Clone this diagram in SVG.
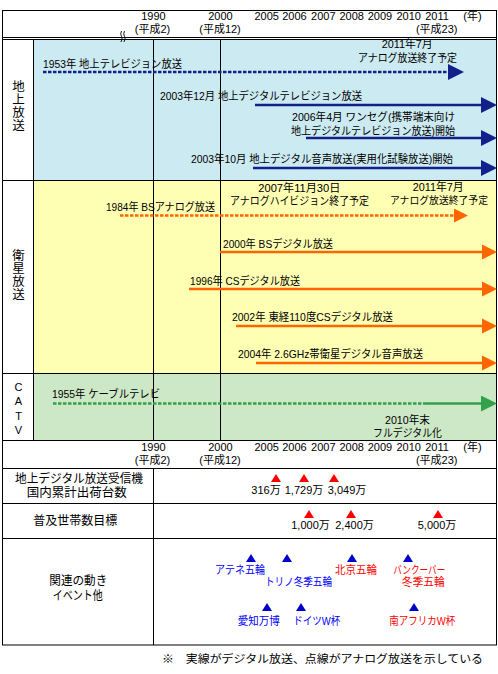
<svg xmlns="http://www.w3.org/2000/svg" width="498" height="674" viewBox="0 0 498 674">
<style>
.t{font-family:"Liberation Sans","Noto Sans CJK JP",sans-serif;font-size:11px;fill:#000}
.l{font-size:12.5px}
.s{font-size:10.4px}
.c{text-anchor:middle}
.v{writing-mode:vertical-rl;font-family:"Noto Sans CJK JP",sans-serif;font-size:12.5px;letter-spacing:0.5px}
.vu{writing-mode:vertical-rl;text-orientation:upright;font-family:"Liberation Sans",sans-serif;font-size:11px;letter-spacing:2.3px}
.bl{fill:#0000ff}
.rd{fill:#ff0000}
.grid{stroke:#000;stroke-width:1;fill:none}
.lnB{stroke:#12208a;stroke-width:2.6;fill:none}
.lnO{stroke:#ff6600;stroke-width:2.6;fill:none}
.lnG{stroke:#33a04a;stroke-width:2.6;fill:none}
.dot{stroke-dasharray:3.5 1.5}
.trR{fill:#ff0000}
.trB{fill:#0000cc}
</style>
<defs>
<marker id="aB" viewBox="0 0 16 16" markerWidth="16" markerHeight="16" refX="0" refY="8" markerUnits="userSpaceOnUse" orient="auto"><path d="M0,0 L16,8 L0,16 Z" fill="#12208a"/></marker>
<marker id="aO" viewBox="0 0 16 16" markerWidth="15" markerHeight="16" refX="0" refY="8" markerUnits="userSpaceOnUse" orient="auto"><path d="M0,0 L16,8 L0,16 Z" fill="#ff6600"/></marker>
<marker id="aOs" viewBox="0 0 16 16" markerWidth="14" markerHeight="14" refX="0" refY="8" markerUnits="userSpaceOnUse" orient="auto"><path d="M0,0 L16,8 L0,16 Z" fill="#ff6600"/></marker>
<marker id="aG" viewBox="0 0 16 16" markerWidth="16" markerHeight="16" refX="0" refY="8" markerUnits="userSpaceOnUse" orient="auto"><path d="M0,0 L16,8 L0,16 Z" fill="#33a04a"/></marker>
<path id="tri" d="M-5,4 L0,-4 L5,4 Z"/>
</defs>
<rect width="498" height="674" fill="#fff"/>

<g id="backgrounds">
<rect x="34" y="40" width="462" height="140" fill="#cceaf2"/>
<rect x="34" y="181" width="462" height="192" fill="#ffffb3"/>
<rect x="34" y="374" width="462" height="66" fill="#cce8c6"/>
</g>

<g id="grid" class="grid">
<rect x="2.5" y="10.5" width="494" height="634.5"/>
<line x1="2.5" y1="37.5" x2="496.5" y2="37.5"/>
<line x1="2.5" y1="39.5" x2="496.5" y2="39.5"/>
<line x1="2.5" y1="180.5" x2="496.5" y2="180.5"/>
<line x1="2.5" y1="373.5" x2="496.5" y2="373.5"/>
<line x1="2.5" y1="440.5" x2="496.5" y2="440.5"/>
<line x1="2.5" y1="468.5" x2="496.5" y2="468.5"/>
<line x1="2.5" y1="503.5" x2="496.5" y2="503.5"/>
<line x1="2.5" y1="538.5" x2="496.5" y2="538.5"/>
<line x1="33.5" y1="39.5" x2="33.5" y2="440.5"/>
<line x1="153.5" y1="39.5" x2="153.5" y2="440.5"/>
<line x1="220.5" y1="39.5" x2="220.5" y2="440.5"/>
<line x1="153.5" y1="468.5" x2="153.5" y2="645"/>
<path d="M121.5,31 q-1.6,3 0,5.5 q1.6,2.5 -0.6,5.5 M124.5,31 q-1.6,3 0,5.5 q1.6,2.5 -0.6,5.5" stroke-width="0.9"/>
</g>

<g id="header-top" class="t">
<text x="153.5" y="20" class="c">1990</text>
<text x="152.5" y="33" class="c">(平成2)</text>
<text x="220.5" y="20" class="c">2000</text>
<text x="220" y="33" class="c">(平成12)</text>
<text x="266.7" y="20" class="c">2005</text>
<text x="294.5" y="20" class="c">2006</text>
<text x="323.3" y="20" class="c">2007</text>
<text x="351.7" y="20" class="c">2008</text>
<text x="380" y="20" class="c">2009</text>
<text x="408.7" y="20" class="c">2010</text>
<text x="437" y="20" class="c">2011</text>
<text x="472.5" y="20" class="c">(年)</text>
<text x="436.7" y="33" class="c">(平成23)</text>
</g>

<g id="terrestrial">
<text x="18.5" y="80" class="v">地上放送</text>
<g class="t">
<text x="43" y="68" textLength="139" lengthAdjust="spacingAndGlyphs">1953年 地上テレビジョン放送</text>
<text x="381.7" y="48" textLength="51" lengthAdjust="spacingAndGlyphs">2011年7月</text>
<text x="358" y="62" textLength="99" lengthAdjust="spacingAndGlyphs">アナログ放送終了予定</text>
<text x="160" y="100" textLength="202" lengthAdjust="spacingAndGlyphs">2003年12月 地上デジタルテレビジョン放送</text>
<text x="292" y="121" textLength="163" lengthAdjust="spacingAndGlyphs">2006年4月 ワンセグ(携帯端末向け</text>
<text x="291" y="135" textLength="164" lengthAdjust="spacingAndGlyphs">地上デジタルテレビジョン放送)開始</text>
<text x="191" y="163" textLength="262" lengthAdjust="spacingAndGlyphs">2003年10月 地上デジタル音声放送(実用化試験放送)開始</text>
</g>
</g>

<g id="satellite">
<text x="18.5" y="249" class="v">衛星放送</text>
<g class="t">
<text x="258.3" y="192" textLength="82" lengthAdjust="spacingAndGlyphs">2007年11月30日</text>
<text x="230" y="205" textLength="139" lengthAdjust="spacingAndGlyphs">アナログハイビジョン終了予定</text>
<text x="412.7" y="191" textLength="51" lengthAdjust="spacingAndGlyphs">2011年7月</text>
<text x="390" y="204" class="s" textLength="98" lengthAdjust="spacingAndGlyphs">アナログ放送終了予定</text>
<text x="106" y="211" textLength="109" lengthAdjust="spacingAndGlyphs">1984年 BSアナログ放送</text>
<text x="223" y="248" textLength="110" lengthAdjust="spacingAndGlyphs">2000年 BSデジタル放送</text>
<text x="190" y="285" textLength="110" lengthAdjust="spacingAndGlyphs">1996年 CSデジタル放送</text>
<text x="232" y="321" textLength="161" lengthAdjust="spacingAndGlyphs">2002年 東経110度CSデジタル放送</text>
<text x="238" y="358" textLength="185" lengthAdjust="spacingAndGlyphs">2004年 2.6GHz帯衛星デジタル音声放送</text>
</g>
</g>

<g id="catv">
<text x="18.5" y="381" class="vu">CATV</text>
<g class="t">
<text x="52" y="398" textLength="108" lengthAdjust="spacingAndGlyphs">1955年 ケーブルテレビ</text>
<text x="385" y="424" textLength="45" lengthAdjust="spacingAndGlyphs">2010年末</text>
<text x="373" y="437" textLength="69" lengthAdjust="spacingAndGlyphs">フルデジタル化</text>
</g>
</g>

<g id="header-bottom" class="t">
<text x="153.5" y="451" class="c">1990</text>
<text x="152.5" y="464" class="c">(平成2)</text>
<text x="220.5" y="451" class="c">2000</text>
<text x="220" y="464" class="c">(平成12)</text>
<text x="266.7" y="451" class="c">2005</text>
<text x="294.5" y="451" class="c">2006</text>
<text x="323.3" y="451" class="c">2007</text>
<text x="351.7" y="451" class="c">2008</text>
<text x="380" y="451" class="c">2009</text>
<text x="408.7" y="451" class="c">2010</text>
<text x="437" y="451" class="c">2011</text>
<text x="472.5" y="451" class="c">(年)</text>
<text x="436.7" y="464" class="c">(平成23)</text>
</g>

<g id="row-shipments">
<text x="15" y="483" class="t l" textLength="128" lengthAdjust="spacingAndGlyphs">地上デジタル放送受信機</text>
<text x="26.7" y="497" class="t l" textLength="100" lengthAdjust="spacingAndGlyphs">国内累計出荷台数</text>
<use href="#tri" x="276" y="478" class="trR"/>
<use href="#tri" x="304" y="478" class="trR"/>
<use href="#tri" x="334" y="478" class="trR"/>
<g class="t c">
<text x="266" y="494">316万</text>
<text x="304" y="494">1,729万</text>
<text x="347" y="494">3,049万</text>
</g>
</g>

<g id="row-target">
<text x="33.3" y="525" class="t l" textLength="84" lengthAdjust="spacingAndGlyphs">普及世帯数目標</text>
<use href="#tri" x="309" y="514" class="trR"/>
<use href="#tri" x="351" y="514" class="trR"/>
<use href="#tri" x="438" y="514" class="trR"/>
<g class="t c">
<text x="310.5" y="529">1,000万</text>
<text x="354.5" y="529">2,400万</text>
<text x="437" y="529">5,000万</text>
</g>
</g>

<g id="row-events">
<text x="49.3" y="585" class="t l" textLength="58" lengthAdjust="spacingAndGlyphs">関連の動き</text>
<text x="52.7" y="600" class="t l" textLength="50" lengthAdjust="spacingAndGlyphs">イベント他</text>
<use href="#tri" x="251" y="558" class="trB"/>
<use href="#tri" x="287" y="558" class="trB"/>
<use href="#tri" x="352" y="558" class="trB"/>
<use href="#tri" x="408" y="558" class="trB"/>
<use href="#tri" x="267" y="607" class="trB"/>
<use href="#tri" x="301" y="607" class="trB"/>
<use href="#tri" x="414" y="607" class="trB"/>
<text x="215" y="574" class="t bl" textLength="50" lengthAdjust="spacingAndGlyphs">アテネ五輪</text>
<text x="265" y="586" class="t bl" textLength="67" lengthAdjust="spacingAndGlyphs">トリノ冬季五輪</text>
<text x="335" y="574" class="t rd" textLength="42" lengthAdjust="spacingAndGlyphs">北京五輪</text>
<text x="393.3" y="574" class="t rd" textLength="52" lengthAdjust="spacingAndGlyphs">バンクーバー</text>
<text x="401.7" y="586" class="t rd" textLength="43" lengthAdjust="spacingAndGlyphs">冬季五輪</text>
<text x="237.7" y="625" class="t bl" textLength="42" lengthAdjust="spacingAndGlyphs">愛知万博</text>
<text x="293.3" y="625" class="t bl" textLength="47" lengthAdjust="spacingAndGlyphs">ドイツW杯</text>
<text x="389.3" y="625" class="t rd" textLength="66" lengthAdjust="spacingAndGlyphs">南アフリカW杯</text>
</g>

<g id="note">
<text x="162" y="662.5" class="t" textLength="321" lengthAdjust="spacingAndGlyphs">※　実線がデジタル放送、点線がアナログ放送を示している</text>
</g>

<g id="connectors">
<line x1="43" y1="72" x2="448" y2="72" class="lnB dot" marker-end="url(#aB)"/>
<line x1="255" y1="105" x2="481" y2="105" class="lnB" marker-end="url(#aB)"/>
<line x1="306" y1="138" x2="481" y2="138" class="lnB" marker-end="url(#aB)"/>
<line x1="253" y1="168" x2="481" y2="168" class="lnB" marker-end="url(#aB)"/>
<line x1="120" y1="215.5" x2="454" y2="215.5" class="lnO dot" marker-end="url(#aOs)"/>
<line x1="220" y1="252" x2="482" y2="252" class="lnO" marker-end="url(#aO)"/>
<line x1="189" y1="289" x2="482" y2="289" class="lnO" marker-end="url(#aO)"/>
<line x1="236" y1="326" x2="482" y2="326" class="lnO" marker-end="url(#aO)"/>
<line x1="256" y1="363" x2="482" y2="363" class="lnO" marker-end="url(#aO)"/>
<line x1="53" y1="403.5" x2="425" y2="403.5" class="lnG dot"/>
<line x1="425" y1="403.5" x2="481" y2="403.5" class="lnG" marker-end="url(#aG)"/>
</g>
</svg>
